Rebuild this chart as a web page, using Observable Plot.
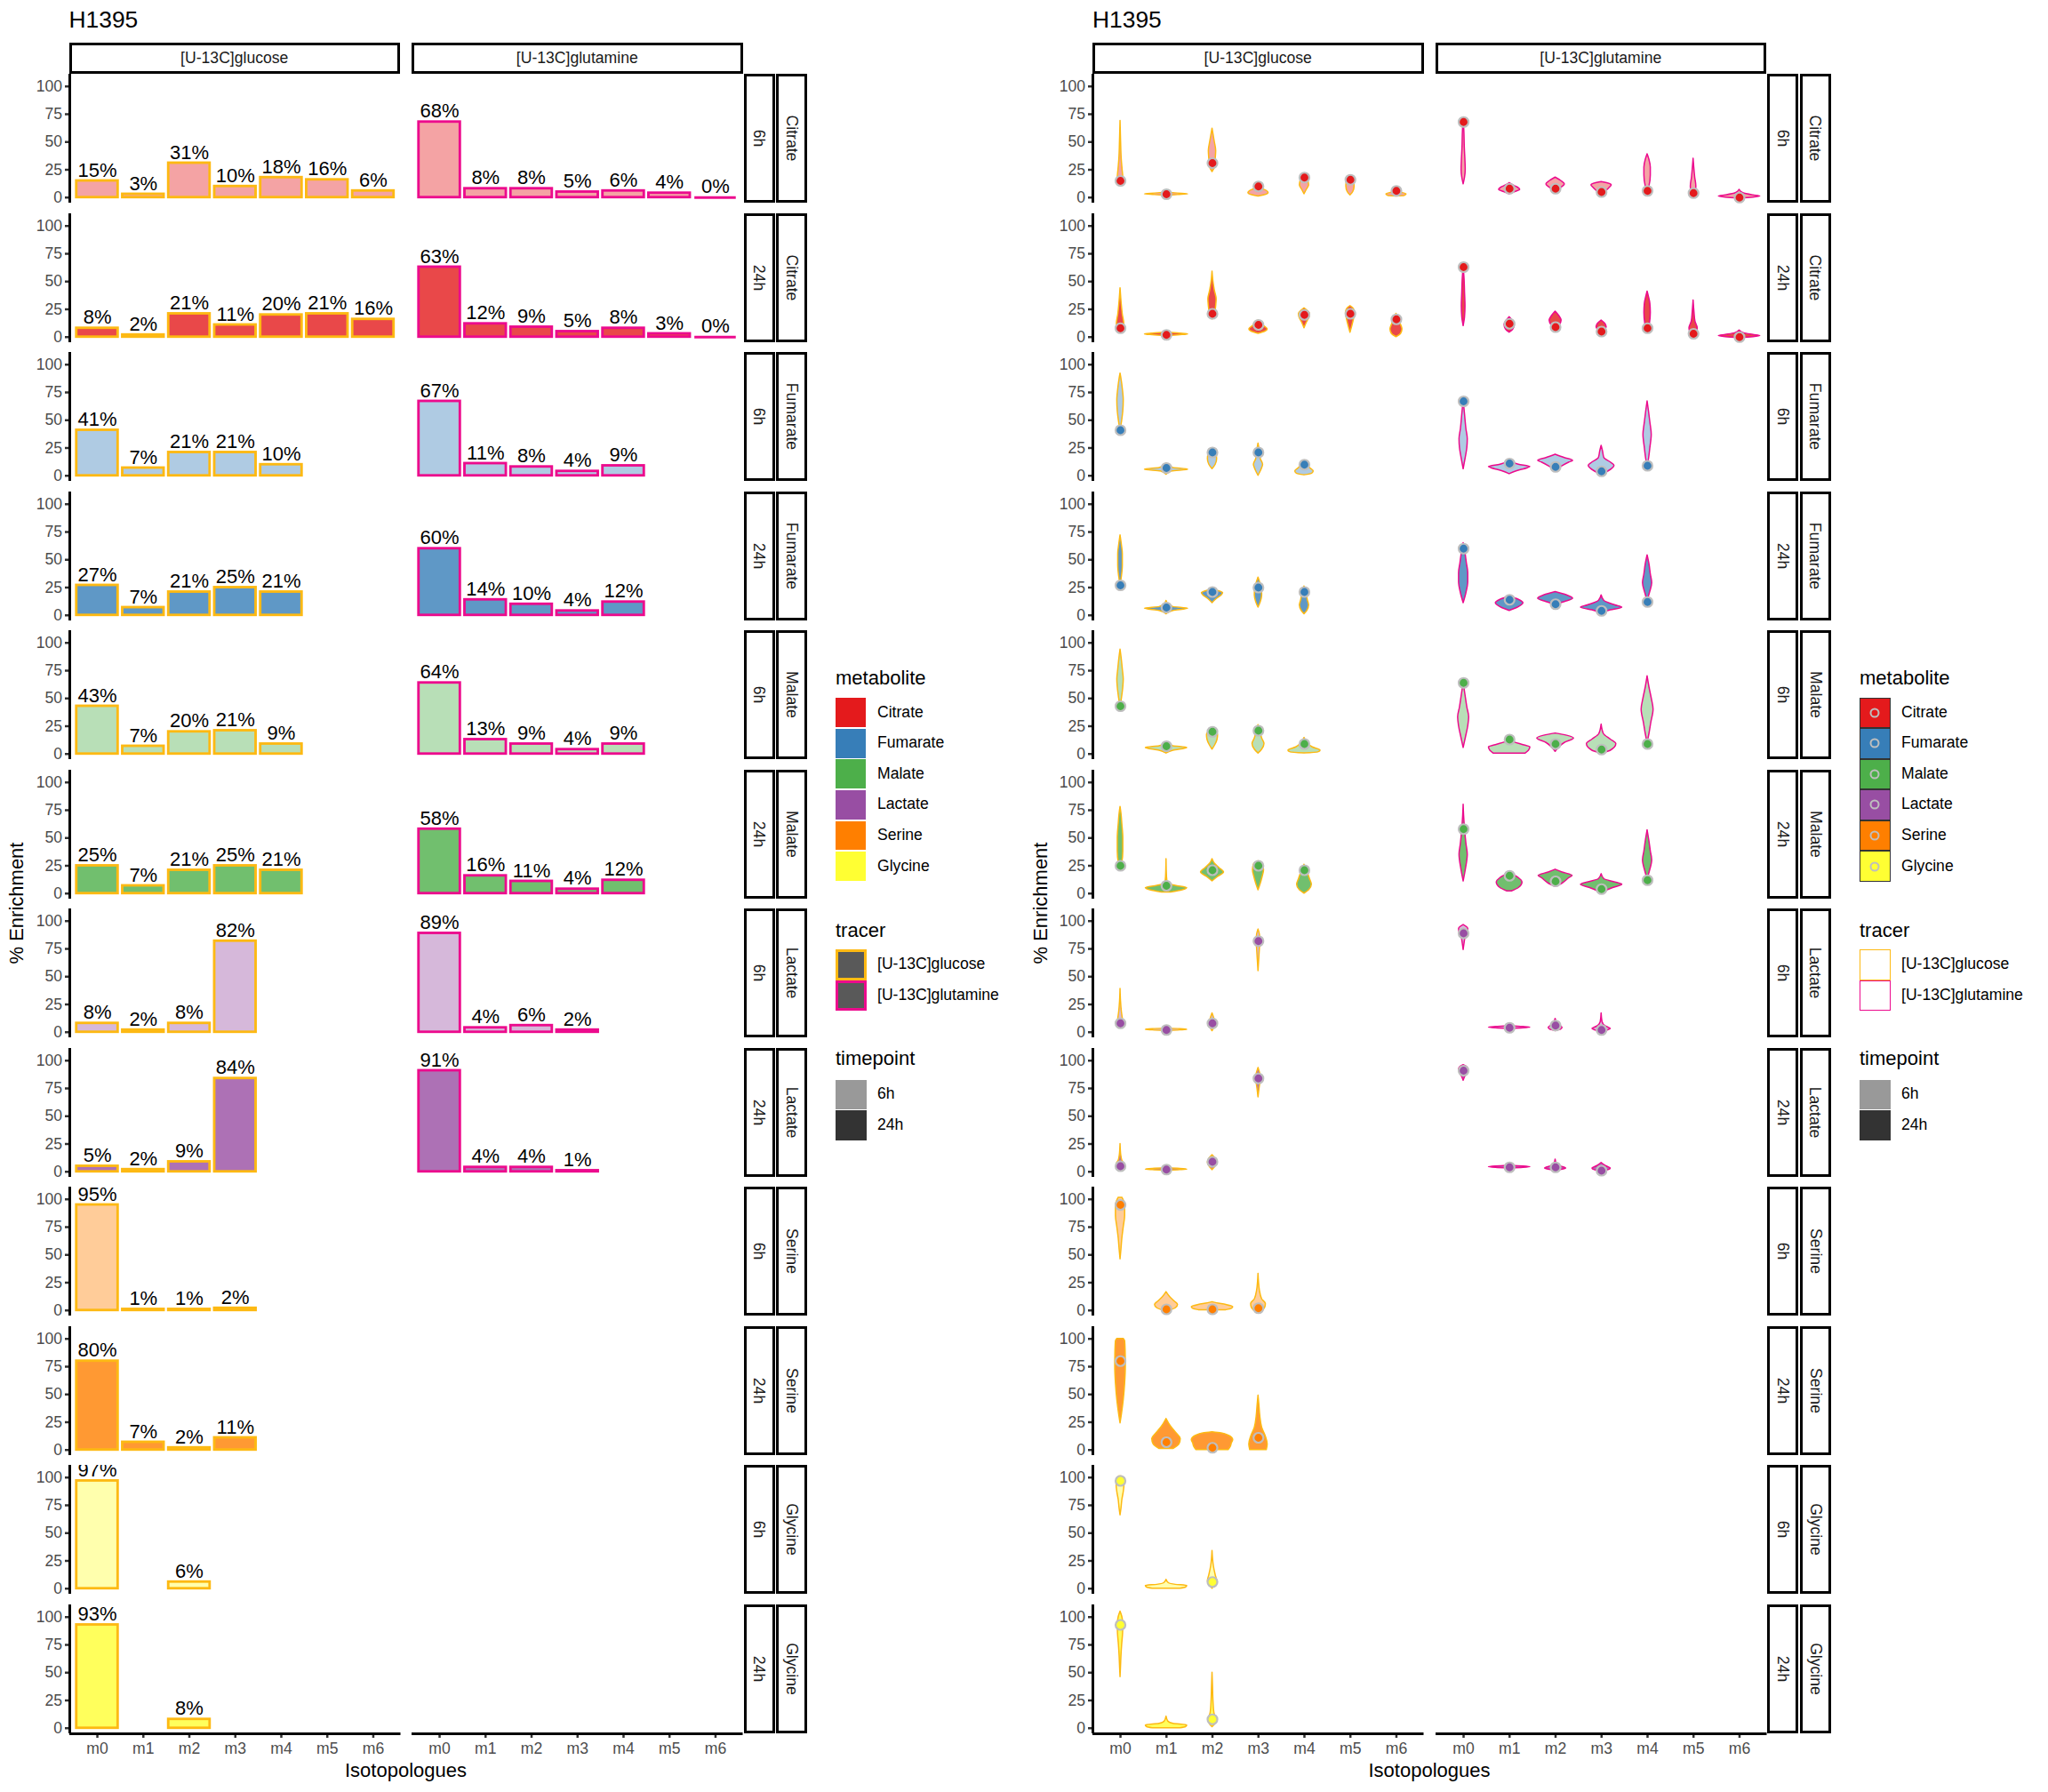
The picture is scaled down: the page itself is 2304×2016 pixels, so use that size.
<!DOCTYPE html>
<html><head><meta charset="utf-8">
<script src="https://cdn.jsdelivr.net/npm/d3@7"></script>
<script src="https://cdn.jsdelivr.net/npm/@observablehq/plot@0.6"></script>
<style>
body{margin:0;background:#fff;}
#root{position:relative;width:2304px;height:2016px;overflow:hidden;font-family:"Liberation Sans",Arial,Helvetica,sans-serif;background:#fff;}
.t{position:absolute;line-height:1;white-space:nowrap;}
.strip{position:absolute;box-sizing:border-box;border:3.5px solid #000;background:#fff;display:flex;align-items:center;justify-content:center;font-size:17.6px;color:#1a1a1a;white-space:nowrap;}
.key{position:absolute;box-sizing:border-box;}
</style></head>
<body><div id="root"></div>
<script>
// ---------- data ----------
const metabolites = ["Citrate","Fumarate","Malate","Lactate","Serine","Glycine"];
const timepoints = ["6h","24h"];
const tracers = ["[U-13C]glucose","[U-13C]glutamine"];
const isotopologues = ["m0","m1","m2","m3","m4","m5","m6"];

// % enrichment per metabolite (order as metabolites), per isotopologue
const glc6h  = [[15,3,31,10,18,16,6],[41,7,21,21,10],[43,7,20,21,9],[8,2,8,82],[95,1,1,2],[97,null,6]];
const glc24h = [[8,2,21,11,20,21,16],[27,7,21,25,21],[25,7,21,25,21],[5,2,9,84],[80,7,2,11],[93,null,8]];
const gln6h  = [[68,8,8,5,6,4,0],[67,11,8,4,9],[64,13,9,4,9],[89,4,6,2],[],[]];
const gln24h = [[63,12,9,5,8,3,0],[60,14,10,4,12],[58,16,11,4,12],[91,4,4,1],[],[]];

// violin profiles: [enrichment, half-width in isotopologue units]
const vGlc6h = [
 [[[12,0],[14,0.05],[18,0.06],[25,0.045],[35,0.025],[50,0.012],[69,0]],
  [[1.5,0],[2.3,0.25],[3,0.47],[3.7,0.25],[4.5,0]],
  [[23,0],[27,0.05],[35,0.07],[42,0.08],[50,0.05],[56,0.025],[62,0]],
  [[1,0],[2,0.12],[4,0.22],[6,0.18],[8,0.08],[11,0.05],[13,0]],
  [[3,0],[7,0.05],[11,0.1],[14,0.09],[18,0.06],[20,0]],
  [[2,0],[5,0.06],[10,0.09],[14,0.08],[18,0.05],[19,0]],
  [[1,0],[1.5,0.18],[3,0.22],[4.5,0.1],[6,0.04],[7.5,0]]],
 [[[40,0],[48,0.03],[58,0.06],[68,0.07],[78,0.05],[86,0.025],[92,0]],
  [[1,0],[4,0.12],[5.5,0.47],[7,0.15],[9,0.04],[11,0]],
  [[6,0],[10,0.07],[15,0.1],[20,0.08],[24,0]],
  [[0,0],[5,0.06],[10,0.1],[15,0.05],[22,0.03],[29,0]],
  [[0.5,0],[2,0.17],[4,0.2],[7,0.12],[10,0.06],[12,0]]],
 [[[42,0],[50,0.03],[60,0.06],[67,0.07],[76,0.05],[86,0.025],[94,0]],
  [[0.5,0],[3,0.15],[5.5,0.45],[7,0.15],[10,0]],
  [[4,0],[8,0.06],[13,0.11],[17,0.12],[21,0.06],[23,0]],
  [[0.5,0],[4,0.08],[9,0.13],[14,0.08],[20,0.04],[26,0]],
  [[0.5,0],[1.5,0.3],[3,0.35],[6,0.18],[10,0.06],[14.5,0]]],
 [[[5,0],[8,0.06],[12,0.05],[18,0.03],[28,0.01],[39,0]],
  [[1,0],[1.7,0.3],[2.2,0.45],[2.8,0.3],[3.3,0]],
  [[1,0],[4,0.04],[8,0.06],[12,0.04],[17,0]],
  [[55,0],[65,0.015],[75,0.03],[82,0.04],[88,0.03],[92.5,0]]],
 [[[46,0],[55,0.02],[65,0.04],[75,0.07],[85,0.1],[93,0.1],[98,0.08],[101.5,0.04]],
  [[0,0.08],[2,0.2],[5,0.25],[8,0.18],[12,0.08],[16.5,0]],
  [[0.3,0.3],[1.5,0.42],[3,0.45],[5,0.3],[6.5,0.1],[7.5,0]],
  [[0,0.1],[3,0.15],[6,0.16],[10,0.08],[18,0.03],[33,0]]],
 [[[66,0],[72,0.02],[80,0.04],[87,0.07],[93,0.085],[98,0.07],[101,0.03]],
  [[0,0.3],[1,0.42],[2.5,0.45],[3.5,0.2],[5,0.05],[8,0]],
  [[0,0],[3,0.06],[7,0.1],[12,0.07],[20,0.03],[34,0]]]
];
const vGlc24h = [
 [[[4,0],[7,0.07],[12,0.08],[20,0.05],[30,0.025],[44,0]],
  [[1,0],[1.8,0.3],[2.5,0.47],[3.2,0.3],[4,0]],
  [[16,0],[20,0.05],[28,0.08],[34,0.09],[42,0.05],[50,0.02],[59,0]],
  [[3,0],[5,0.15],[7,0.2],[10,0.12],[13,0.06],[15,0]],
  [[8,0],[13,0.05],[18,0.11],[21,0.12],[24,0.06],[26,0]],
  [[4,0],[10,0.04],[17,0.08],[22,0.1],[26,0.06],[28,0]],
  [[0,0],[3,0.1],[7,0.13],[12,0.09],[17,0.05],[21,0]]],
 [[[27,0],[35,0.03],[45,0.05],[55,0.05],[63,0.03],[72,0]],
  [[1,0],[4,0.15],[6,0.47],[7.5,0.15],[10,0.04],[13,0]],
  [[11,0],[15,0.1],[18,0.2],[20,0.23],[22,0.12],[23.5,0]],
  [[7,0],[12,0.05],[18,0.08],[24,0.07],[29,0.04],[34,0]],
  [[1,0],[4,0.06],[9,0.1],[14,0.07],[20,0.05],[26,0]]],
 [[[21,0],[28,0.04],[38,0.06],[50,0.06],[62,0.04],[72,0.02],[78,0]],
  [[1,0.1],[3,0.35],[5,0.45],[7,0.2],[9,0.03],[15,0.01],[31,0]],
  [[11,0],[15,0.12],[19,0.25],[23,0.15],[27,0.05],[31,0]],
  [[3,0],[9,0.05],[15,0.09],[21,0.12],[26,0.1],[29,0]],
  [[0,0],[3,0.1],[8,0.16],[13,0.12],[19,0.07],[26,0]]],
 [[[2.5,0],[4,0.06],[7,0.08],[10,0.04],[15,0.015],[25,0]],
  [[1,0],[1.6,0.3],[2.1,0.45],[2.7,0.3],[3.2,0]],
  [[1.5,0],[4,0.05],[8,0.1],[11,0.08],[15,0]],
  [[67,0],[74,0.02],[80,0.04],[84,0.06],[88,0.04],[93.5,0]]],
 [[[24,0],[32,0.03],[45,0.07],[60,0.1],[75,0.115],[90,0.11],[98,0.1],[100,0.07]],
  [[1,0.15],[5,0.28],[10,0.31],[15,0.22],[21,0.1],[28,0]],
  [[0,0.35],[3,0.4],[6,0.42],[9,0.45],[13,0.35],[15,0.2],[16,0]],
  [[0,0.18],[5,0.2],[12,0.16],[20,0.08],[30,0.04],[40,0.02],[49,0]]],
 [[[46,0],[55,0.01],[65,0.02],[75,0.035],[85,0.055],[93,0.06],[100,0.04],[105,0]],
  [[0,0.3],[1,0.42],[2.5,0.45],[4,0.15],[6,0.04],[10.5,0]],
  [[1,0],[4,0.06],[8,0.075],[14,0.04],[25,0.02],[38,0.01],[50,0]]]
];
const vGln6h = [
 [[[12,0],[18,0.03],[25,0.045],[32,0.04],[45,0.025],[60,0.015],[70,0]],
  [[3,0],[5,0.12],[7,0.23],[9,0.18],[11,0.08],[13,0]],
  [[5,0],[8,0.1],[12,0.2],[15,0.12],[18,0]],
  [[2,0],[5,0.08],[9,0.18],[11,0.22],[13,0.12],[14,0]],
  [[5,0],[10,0.04],[20,0.07],[27,0.07],[34,0.04],[39,0]],
  [[3,0],[6,0.05],[10,0.06],[18,0.035],[27,0.015],[35,0]],
  [[-1,0],[0,0.3],[1,0.45],[2,0.3],[4,0.08],[7,0]]],
 [[[6,0],[15,0.04],[25,0.08],[33,0.09],[42,0.06],[55,0.03],[68,0]],
  [[1.5,0],[4,0.15],[7,0.4],[8,0.45],[10,0.2],[13,0]],
  [[5,0],[8,0.12],[12,0.3],[13.5,0.38],[16,0.2],[19,0]],
  [[1,0],[4,0.15],[9,0.28],[12,0.2],[16,0.06],[22,0.03],[27,0]],
  [[8,0],[15,0.03],[25,0.06],[37,0.09],[48,0.06],[58,0.03],[67,0]]],
 [[[5.5,0],[15,0.05],[25,0.1],[33,0.12],[42,0.08],[53,0.04],[64,0]],
  [[0.5,0.35],[3,0.42],[6,0.45],[8,0.3],[10.5,0.1],[14,0]],
  [[2,0],[6,0.08],[10,0.2],[14,0.4],[16.5,0.25],[18.5,0]],
  [[1,0.05],[3,0.2],[9,0.32],[13,0.2],[18,0.05],[26.5,0]],
  [[10,0],[18,0.04],[28,0.08],[40,0.13],[50,0.09],[60,0.04],[70,0]]],
 [[[74,0],[80,0.02],[85,0.04],[90,0.09],[93,0.1],[96.5,0]],
  [[3,0],[3.6,0.3],[4.2,0.45],[4.8,0.3],[5.5,0]],
  [[1,0],[2.5,0.12],[4,0.15],[6.5,0.08],[9,0.03],[12,0]],
  [[0,0],[1.5,0.12],[3,0.2],[5,0.1],[9,0.02],[17,0]]],
 [], []
];
const vGln24h = [
 [[[10,0],[18,0.03],[28,0.04],[40,0.03],[52,0.02],[63,0]],
  [[4,0],[7,0.08],[11,0.11],[15,0.06],[18,0]],
  [[7,0],[10,0.08],[15,0.13],[19,0.08],[23,0]],
  [[3,0],[6,0.07],[9,0.11],[12,0.08],[15,0]],
  [[5,0],[12,0.05],[22,0.07],[30,0.06],[36,0.03],[41,0]],
  [[1,0],[4,0.07],[8,0.09],[14,0.04],[22,0.02],[33,0]],
  [[-1,0],[0,0.3],[1,0.45],[2,0.3],[3.5,0.1],[6,0]]],
 [[[11,0],[20,0.06],[30,0.1],[38,0.1],[47,0.07],[56,0.04],[65,0]],
  [[4,0],[7,0.18],[11,0.3],[14,0.2],[17,0]],
  [[9.5,0],[12,0.2],[15,0.38],[18,0.25],[21,0]],
  [[1.5,0],[4,0.15],[7,0.45],[9,0.3],[13,0.06],[18,0]],
  [[13,0],[20,0.05],[29,0.1],[37,0.07],[46,0.04],[54,0]]],
 [[[11,0],[22,0.05],[35,0.09],[45,0.06],[58,0.03],[70,0.01],[80,0]],
  [[2,0.05],[5,0.2],[10,0.28],[14,0.2],[17,0.08],[19.5,0]],
  [[6,0],[9,0.15],[14,0.3],[16,0.37],[19,0.15],[21.5,0]],
  [[1.5,0.05],[5,0.25],[8,0.45],[10,0.3],[13,0.06],[17.5,0]],
  [[13,0],[20,0.05],[30,0.1],[38,0.07],[47,0.04],[57,0]]],
 [[[82,0],[86,0.04],[89,0.08],[92,0.1],[94,0.08],[96,0]],
  [[3,0],[3.6,0.3],[4.2,0.45],[4.8,0.3],[5.4,0]],
  [[1,0],[2,0.15],[3,0.23],[5,0.1],[7,0.03],[11,0]],
  [[0,0],[1.5,0.15],[3,0.2],[5,0.1],[8,0]]],
 [], []
];

const metColors = ["#E41A1C","#377EB8","#4DAF4A","#984EA3","#FF7F00","#FFFF33"];
const tracerColors = ["#FDB913","#EC0B8D"];
const tpAlpha = [0.4, 0.8];
const yTicks = [0,25,50,75,100];

// ---------- layout ----------
const root = document.getElementById("root");
const ROW0 = 83, PITCH = 156.5, PH = 145, PW = 372.5, COLX = [77.5, 463], DX = 1151.5;
const FONT = '"Liberation Sans", Arial, Helvetica, sans-serif';

function div(cls, css, html) {
  const d = document.createElement("div");
  if (cls) d.className = cls;
  Object.assign(d.style, css);
  if (html != null) d.textContent = html;
  root.appendChild(d);
  return d;
}
function label(x, y, str, size, opts = {}) {
  return div("t", Object.assign({left: x + "px", top: y + "px", fontSize: size + "px",
    transform: opts.center ? "translate(-50%,-50%)" : "translateY(-50%)", color: opts.color || "#000"}, opts.css || {}), str);
}

function addPanel(chart, col, row) {
  const m = Math.floor(row / 2), t = row % 2;
  const src = col === 0 ? (t === 0 ? glc6h : glc24h) : (t === 0 ? gln6h : gln24h);
  const vals = src[m] || [];
  const color = metColors[m], alpha = tpAlpha[t], tcol = tracerColors[col];
  const pts = vals.map((v, i) => ({i, v})).filter(d => d.v != null);
  const showY = col === 0, showX = row === 11;
  const ml = showY ? 70 : 0, mb = showX ? 40 : 0;
  const marks = [];
  if (chart === 0) {
    marks.push(Plot.rect(pts, {x1: d => d.i - 0.45, x2: d => d.i + 0.45, y1: 0, y2: "v",
      fill: color, fillOpacity: alpha, stroke: tcol, strokeWidth: 2.85}));
    marks.push(Plot.ruleY(pts.filter(d => d.v === 0), {x1: d => d.i - 0.45, x2: d => d.i + 0.45, y: 0,
      stroke: tcol, strokeWidth: 2.85}));
    marks.push(Plot.text(pts, {x: "i", y: "v", text: d => d.v + "%", lineAnchor: "bottom", dy: -5,
      fontSize: 22, fill: "#000", clip: true}));
  } else {
    const shapes = (col === 0 ? (t === 0 ? vGlc6h : vGlc24h) : (t === 0 ? vGln6h : vGln24h))[m] || [];
    const rows = shapes.flatMap((k, i) => k ? k.map(([y, w]) => ({i, y, x1: i - w, x2: i + w})) : []);
    marks.push(Plot.areaX(rows, {y: "y", x1: "x1", x2: "x2", z: "i", fill: color, fillOpacity: alpha,
      stroke: tcol, strokeWidth: 1.5, curve: "monotone-y", clip: true}));
    marks.push(Plot.dot(pts, {x: "i", y: "v", r: 5.5, fill: color, stroke: "#BEBEBE", strokeWidth: 2.2}));
  }
  if (showY) {
    marks.push(Plot.axisY({ticks: yTicks, tickSize: 5, tickPadding: 3.5, stroke: "#333", strokeWidth: 2.5,
      fill: "#4D4D4D", fontSize: 17.6, label: null}));
    marks.push(Plot.ruleX([-0.6], {stroke: "#000", strokeWidth: 3}));
  }
  if (showX) {
    marks.push(Plot.axisX({ticks: [0,1,2,3,4,5,6], tickFormat: i => isotopologues[i], tickSize: 5, tickPadding: 5,
      stroke: "#333", strokeWidth: 2.5, fill: "#4D4D4D", fontSize: 17.6, label: null}));
    marks.push(Plot.ruleY([-5], {stroke: "#000", strokeWidth: 3}));
  }
  const svg = Plot.plot({
    width: PW + ml, height: PH + mb,
    marginLeft: ml, marginRight: 0, marginTop: 0, marginBottom: mb,
    x: {type: "linear", domain: [-0.6, 6.6], axis: showX ? undefined : null, label: null},
    y: {type: "linear", domain: [-5, 111], axis: showY ? undefined : null, label: null},
    style: {fontFamily: FONT, fontSize: "17.6px", background: "transparent", overflow: "visible"},
    marks
  });
  svg.style.position = "absolute";
  svg.style.left = (chart * DX + COLX[col] - ml) + "px";
  svg.style.top = (ROW0 + row * PITCH) + "px";
  svg.style.maxWidth = "none";
  root.appendChild(svg);
}

function addChart(chart) {
  const ox = chart * DX;
  label(ox + 77.5, 22, "H1395", 26.4);
  // top strips
  tracers.forEach((tr, c) => {
    div("strip", {left: (ox + COLX[c]) + "px", top: "48px", width: PW + "px", height: "35px"}, tr);
  });
  // panels + right strips
  for (let r = 0; r < 12; r++) {
    for (let c = 0; c < 2; c++) addPanel(chart, c, r);
    const top = ROW0 + r * PITCH;
    const s1 = div("strip", {left: (ox + 836.5) + "px", top: top + "px", width: "35px", height: PH + "px"});
    const a = document.createElement("span"); a.textContent = timepoints[r % 2];
    a.style.transform = "rotate(90deg)"; a.style.display = "inline-block"; s1.appendChild(a);
    const s2 = div("strip", {left: (ox + 873) + "px", top: top + "px", width: "35px", height: PH + "px"});
    const b = document.createElement("span"); b.textContent = metabolites[Math.floor(r / 2)];
    b.style.transform = "rotate(90deg)"; b.style.display = "inline-block"; s2.appendChild(b);
  }
  // axis titles
  label(ox + 19, 1016, "% Enrichment", 22, {center: true, css: {transform: "translate(-50%,-50%) rotate(-90deg)"}});
  label(ox + 456.5, 1992, "Isotopologues", 22, {center: true});
  // legend
  const lx = 940 + chart * 1152, tx = 987 + chart * 1152, K = 34.56;
  label(lx, 763, "metabolite", 22);
  metabolites.forEach((mName, i) => {
    const y = 784.5 + K * i;
    if (chart === 0) {
      div("key", {left: (lx) + "px", top: (y + 0.8) + "px", width: "34px", height: (K - 1.6) + "px", background: metColors[i]});
    } else {
      const k = div("key", {left: lx + "px", top: y + "px", width: "34.5px", height: K + "px", background: metColors[i], border: "1.2px solid #333"});
      const c = document.createElement("div");
      Object.assign(c.style, {position: "absolute", left: "50%", top: "50%", width: "11px", height: "11px", boxSizing: "border-box",
        transform: "translate(-50%,-50%)", borderRadius: "50%", border: "2px solid #BEBEBE", background: metColors[i]});
      k.appendChild(c);
    }
    label(tx, y + K / 2, mName, 17.6);
  });
  label(lx, 1047, "tracer", 22);
  tracers.forEach((tr, i) => {
    const y = 1068 + K * i;
    if (chart === 0) {
      div("key", {left: lx + "px", top: y + "px", width: "34.5px", height: K + "px", background: "#595959", border: "3px solid " + tracerColors[i]});
    } else {
      div("key", {left: lx + "px", top: y + "px", width: "34.5px", height: K + "px", background: "#fff", border: "1.6px solid " + tracerColors[i]});
    }
    label(tx, y + K / 2, tr, 17.6);
  });
  label(lx, 1191, "timepoint", 22);
  timepoints.forEach((tp, i) => {
    const y = 1214 + K * i;
    div("key", {left: lx + "px", top: (y + 0.6) + "px", width: "34.5px", height: (K - 1.2) + "px", background: i === 0 ? "#999999" : "#333333"});
    label(tx, y + K / 2, tp, 17.6);
  });
}

addChart(0);
addChart(1);
</script>
</body></html>
